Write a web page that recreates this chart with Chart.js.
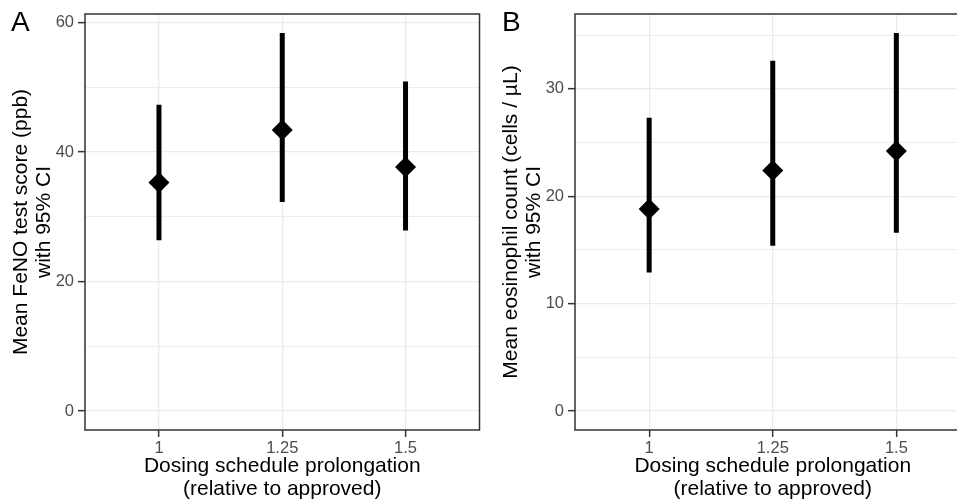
<!DOCTYPE html>
<html>
<head>
<meta charset="utf-8">
<script src="https://cdn.jsdelivr.net/npm/chart.js@4.4.0/dist/chart.umd.min.js"></script>
<style>
    html, body { margin: 0; padding: 0; background: #fff; overflow: hidden; }
    #wrap { position: relative; width: 957px; height: 502px; overflow: hidden; }
    canvas { position: absolute; top: 0; }
    .tag { position: absolute; top: 6px; font: 28px "Liberation Sans", Arial, sans-serif; color: #000; }
</style>
</head>
<body>
<div id="wrap">
    <canvas id="panelA" width="490" height="502" style="left:0px"></canvas>
    <canvas id="panelB" width="491" height="502" style="left:490px"></canvas>
    <div class="tag" style="left:11px">A</div>
    <div class="tag" style="left:502px">B</div>
</div>
<script>
// dosing schedule prolongation (relative to approved)
var doseLevels = [1, 1.25, 1.5];
var doseTickLabels = ['1', '1.25', '1.5'];

// FeNO, ppb
var fenoMean = [35.3, 43.4, 37.7];
var fenoLower = [26.4, 32.3, 27.9];
var fenoUpper = [47.3, 58.4, 50.9];
var fenoGrid = [0, 10, 20, 30, 40, 50, 60];
var fenoTickLabels = [0, 20, 40, 60];

// eosinophils, cells / uL
var eosMean = [18.8, 22.4, 24.2];
var eosLower = [12.9, 15.4, 16.6];
var eosUpper = [27.3, 32.6, 35.2];
var eosGrid = [0, 5, 10, 15, 20, 25, 30, 35];
var eosTickLabels = [0, 10, 20, 30];

Chart.defaults.font.family = '"Liberation Sans", Arial, sans-serif';

var frame = {
    id: 'frame',
    afterDraw: function(chart){
        var a = chart.chartArea, ctx = chart.ctx;
        ctx.save();
        ctx.strokeStyle = '#333333';
        ctx.lineWidth = 1.5;
        ctx.strokeRect(a.left, a.top, a.right - a.left, a.bottom - a.top);
        ctx.restore();
    }
};

function makePanel(id, mean, lower, upper, grid, labels, yTitle){
    var top = Math.max.apply(null, upper);
    var pad = top * 0.05;

    var datasets = [{
        data: doseLevels.map(function(x, i){ return {x: x, y: mean[i]}; }),
        pointStyle: 'rectRot',
        pointRadius: 10.5,
        backgroundColor: '#000',
        borderColor: '#000',
        borderWidth: 0
    }];
    doseLevels.forEach(function(x, i){
        datasets.push({
            data: [{x: x, y: lower[i]}, {x: x, y: upper[i]}],
            showLine: true,
            borderColor: '#000',
            borderWidth: 5,
            borderCapStyle: 'butt',
            pointRadius: 0
        });
    });

    return new Chart(document.getElementById(id), {
        type: 'scatter',
        data: {datasets: datasets},
        plugins: [frame],
        options: {
            responsive: false,
            animation: false,
            events: [],
            layout: {padding: {left: 0, right: 10, top: 14, bottom: 0}},
            plugins: {legend: {display: false}, tooltip: {enabled: false}},
            scales: {
                x: {
                    type: 'linear',
                    min: 0.85,
                    max: 1.65,
                    afterBuildTicks: function(s){ s.ticks = doseLevels.map(function(v){ return {value: v}; }); },
                    afterFit: function(s){ s.height = 72; },
                    border: {display: false},
                    grid: {color: '#ebebeb', lineWidth: 1.3, tickLength: 7, tickColor: '#333333', tickWidth: 1.5},
                    ticks: {
                        padding: 2,
                        color: '#4d4d4d',
                        font: {size: 16.5},
                        callback: function(v){ return doseTickLabels[doseLevels.indexOf(v)]; }
                    },
                    title: {
                        display: true,
                        text: ['Dosing schedule prolongation', '(relative to approved)'],
                        color: '#000',
                        font: {size: 21, lineHeight: 1.1},
                        padding: {top: 0, bottom: 1.5}
                    }
                },
                y: {
                    type: 'linear',
                    min: -pad,
                    max: top + pad,
                    afterBuildTicks: function(s){ s.ticks = grid.map(function(v){ return {value: v}; }); },
                    afterFit: function(s){ s.width = 85; },
                    border: {display: false},
                    grid: {
                        color: '#ebebeb',
                        lineWidth: function(c){ return labels.indexOf(c.tick.value) >= 0 ? 1.3 : 0.9; },
                        tickLength: 7,
                        tickColor: function(c){ return labels.indexOf(c.tick.value) >= 0 ? '#333333' : 'rgba(0,0,0,0)'; },
                        tickWidth: 1.5
                    },
                    ticks: {
                        padding: 4,
                        color: '#4d4d4d',
                        font: {size: 16.5},
                        callback: function(v){ return labels.indexOf(v) >= 0 ? String(v) : ''; }
                    },
                    title: {
                        display: true,
                        text: yTitle,
                        color: '#000',
                        font: {size: 21, lineHeight: 1.1},
                        padding: {top: 9.5, bottom: 0}
                    }
                }
            }
        }
    });
}

makePanel('panelA', fenoMean, fenoLower, fenoUpper, fenoGrid, fenoTickLabels,
    ['Mean FeNO test score (ppb)', 'with 95% CI']);
makePanel('panelB', eosMean, eosLower, eosUpper, eosGrid, eosTickLabels,
    ['Mean eosinophil count (cells / µL)', 'with 95% CI']);
</script>
</body>
</html>
